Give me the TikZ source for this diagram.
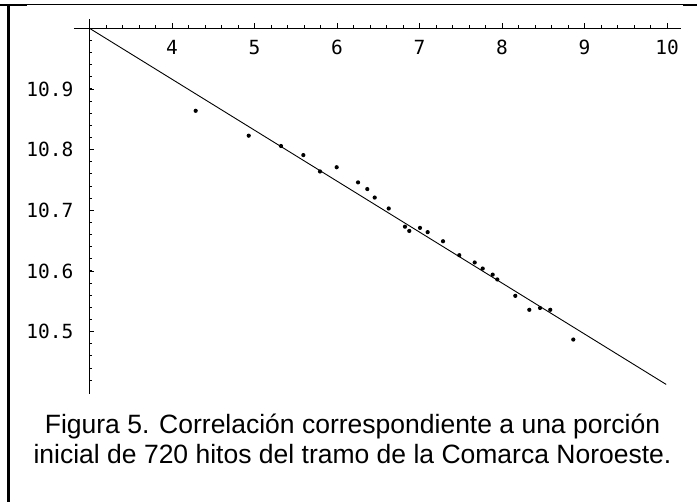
\documentclass[tikz,border=0pt]{standalone}
\usepackage{fontspec}
\setmainfont{Liberation Sans}
\newfontfamily\tickfont{DejaVu Sans Mono}
\usepackage{tikz}
\tikzstyle{axisline} = [line width=0.9pt]
\tikzstyle{ticklabel} = [inner sep=0pt, font=\tickfont\fontsize{19.5}{20}\selectfont]
\tikzstyle{datapoint} = [fill=black]
\tikzstyle{caption} = [inner sep=0pt, anchor=base, font=\fontsize{26.5}{30}\selectfont]

\begin{document}
\begin{tikzpicture}[x=1pt,y=1pt]
    \useasboundingbox (0,0) rectangle (697,502);
    % cell border
    \draw[line width=1pt] (0,497.2)--(697,497.2);
    \draw[line width=2pt] (0,497)--(27,497);
    \draw[line width=2pt] (683,497)--(697,497);
    \draw[line width=2.5pt] (8.5,498)--(8.5,0);
    % plot in data units
    \begin{scope}[x=82.5pt, y=606.7pt, shift={(-158pt,-6200pt)}]
        \draw[axisline] (2.81,11)--(10.17,11);
        \draw[axisline] (3,11.015)--(3,10.398);
        \foreach \t in {3.2,3.4,...,9.9}
            \draw[axisline] (\t,11)--++(0,3pt);
        \foreach \t in {4,...,10} {
            \draw[axisline] (\t,11)--++(0,5pt);
            \node[ticklabel] (xl\t) at ([yshift=-19pt]\t,11) {\t};
        }
        \foreach \v in {10.42,10.44,...,10.99}
            \draw[axisline] (3,\v)--++(2.5pt,0);
        \foreach \v [count=\i] in {10.5,10.6,10.7,10.8,10.9} {
            \draw[axisline] (3,\v)--++(4pt,0);
            \node[ticklabel, anchor=east] (yl\i) at ([xshift=-16pt]3,\v) {\v};
        }
        \draw[axisline] (3,11)--(9.99,10.413);
        \foreach \px/\py in {4.287/10.864, 4.930/10.823, 5.321/10.806, 5.592/10.791,
            5.794/10.764, 5.996/10.771, 6.255/10.746, 6.367/10.735, 6.457/10.721,
            6.627/10.703, 6.824/10.673, 6.876/10.666, 7.006/10.671, 7.099/10.664,
            7.285/10.649, 7.482/10.626, 7.669/10.614, 7.766/10.604, 7.887/10.594,
            7.943/10.586, 8.161/10.559, 8.331/10.536, 8.461/10.539, 8.585/10.536,
            8.864/10.487}
            \fill[datapoint] (\px,\py) circle (2.1pt);
    \end{scope}
    \node[caption] (capA) at (352.5,68) {Figura 5. Correlación correspondiente a una porción};
    \node[caption] (capB) at (352.5,38) {inicial de 720 hitos del tramo de la Comarca Noroeste.};
\end{tikzpicture}
\end{document}
